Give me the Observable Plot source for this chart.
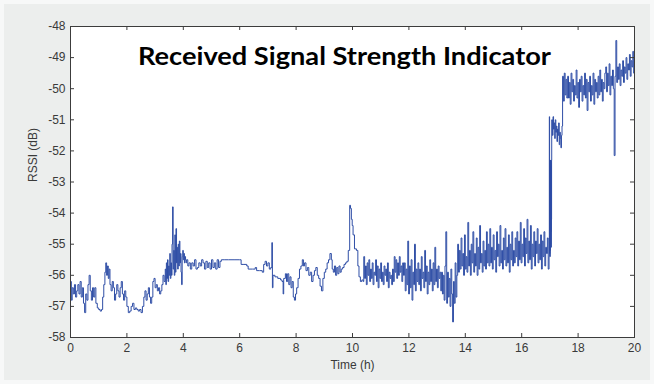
<!DOCTYPE html>
<html><head><meta charset="utf-8">
<script src="https://cdn.jsdelivr.net/npm/d3@7"></script>
<script src="https://cdn.jsdelivr.net/npm/@observablehq/plot@0.6"></script>
<style>
html,body{margin:0;padding:0;background:#f7f8f8;overflow:hidden;}
#wrap{position:absolute;left:0;top:0;width:654px;height:384px;}
#bg{position:absolute;left:4px;top:4px;width:646px;height:376px;background:#eceeed;}
#chart{position:absolute;left:0;top:0;}
</style></head><body>
<div id="wrap"><div id="bg"></div><div id="chart"></div></div>
<script>
const title = "Received Signal Strength Indicator";
const xLabel = "Time (h)";
const yLabel = "RSSI (dB)";
const xTicks = [0, 2, 4, 6, 8, 10, 12, 14, 16, 18, 20];
const yTicks = [-58, -57, -56, -55, -54, -53, -52, -51, -50, -49, -48];

// 0 – 3.35 h (explicit samples)
const tA = [0,0.03,0.06,0.1,0.14,0.18,0.22,0.26,0.3,0.34,0.38,0.42,0.46,0.5,0.54,0.58,0.62,0.66,0.7,0.74,0.78,0.82,0.86,0.9,0.95,1.0,1.05,1.1,1.14,1.18,1.22,1.25,1.28,1.31,1.34,1.37,1.4,1.44,1.48,1.52,1.56,1.6,1.64,1.68,1.72,1.76,1.8,1.84,1.88,1.92,1.96,2.0,2.05,2.1,2.15,2.2,2.25,2.3,2.35,2.4,2.45,2.5,2.55,2.6,2.64,2.68,2.72,2.76,2.8,2.84,2.88,2.92,2.96,3.0,3.04,3.08,3.12,3.16,3.2,3.24,3.28,3.32];
const vA = [-56.2,-56.8,-56.4,-56.6,-56.3,-56.7,-56.5,-56.3,-56.6,-56.2,-56.7,-56.4,-56.9,-57.2,-56.6,-56.8,-56.3,-56.0,-56.5,-56.8,-56.4,-56.7,-56.4,-56.9,-57.05,-57.1,-57.15,-57.1,-56.7,-56.3,-55.9,-55.6,-56.0,-55.7,-56.1,-55.8,-56.3,-56.5,-56.2,-56.4,-56.8,-56.6,-56.3,-56.5,-56.7,-56.4,-56.2,-56.6,-56.8,-56.5,-56.7,-57.0,-57.2,-57.15,-57.0,-56.9,-57.1,-57.05,-57.1,-57.15,-57.1,-57.2,-57.0,-56.7,-56.5,-56.8,-56.6,-56.4,-56.7,-56.9,-56.7,-56.2,-56.1,-56.4,-56.3,-56.5,-56.4,-56.6,-56.5,-56.3,-56.0,-56.2];

// 3.36 – 4.10 h, every 0.02 h
const bStart = 3.36, bStep = 0.02;
const vB = [-55.8,-56.3,-55.6,-56.1,-55.5,-56.2,-55.7,-56.0,-55.3,-56.1,-55.6,-56.0,-55.0,-53.8,-55.8,-55.2,-56.0,-54.7,-55.9,-54.5,-55.6,-55.1,-55.8,-55.0,-55.7,-54.9,-55.6,-55.3,-55.9,-56.3,-55.4,-55.2,-55.5,-55.3,-55.6,-55.4,-55.5,-55.6];

// 4.12 – 10.38 h (explicit samples)
const tC = [4.12,4.16,4.2,4.25,4.3,4.35,4.4,4.45,4.5,4.55,4.6,4.65,4.7,4.75,4.8,4.85,4.9,4.95,5.0,5.05,5.1,5.15,5.2,5.25,5.3,5.35,5.45,5.6,5.8,6.0,6.05,6.15,6.25,6.3,6.45,6.55,6.6,6.7,6.8,6.85,6.9,6.95,7.0,7.05,7.1,7.14,7.16,7.18,7.25,7.35,7.45,7.5,7.54,7.56,7.62,7.66,7.7,7.74,7.78,7.82,7.86,7.9,7.94,7.98,8.02,8.07,8.12,8.17,8.22,8.26,8.3,8.35,8.4,8.45,8.5,8.55,8.6,8.65,8.7,8.75,8.8,8.85,8.9,8.95,9.0,9.05,9.1,9.15,9.2,9.25,9.28,9.32,9.36,9.4,9.44,9.48,9.52,9.56,9.6,9.65,9.7,9.75,9.8,9.85,9.9,9.93,9.96,9.99,10.02,10.07,10.14,10.19,10.23,10.28,10.33,10.38];
const vC = [-55.5,-55.7,-55.6,-55.8,-55.6,-55.7,-55.5,-55.8,-55.75,-55.6,-55.7,-55.5,-55.6,-55.8,-55.55,-55.75,-55.6,-55.8,-55.5,-55.75,-55.6,-55.8,-55.5,-55.75,-55.55,-55.5,-55.5,-55.5,-55.5,-55.5,-55.65,-55.65,-55.7,-55.8,-55.8,-55.75,-55.85,-55.85,-55.9,-55.65,-55.55,-55.7,-55.6,-55.8,-55.75,-54.95,-56.4,-56.0,-56.05,-56.1,-56.15,-56.2,-56.6,-56.1,-55.95,-56.2,-55.95,-56.3,-56.05,-56.4,-56.2,-56.7,-56.8,-56.6,-56.4,-56.1,-55.8,-55.7,-55.5,-55.7,-55.6,-55.85,-55.75,-56.0,-55.9,-56.2,-56.0,-55.85,-55.75,-56.0,-56.1,-56.35,-56.5,-56.1,-55.9,-55.8,-55.6,-55.5,-55.3,-55.5,-55.8,-55.9,-55.7,-56.0,-55.75,-55.95,-55.7,-55.9,-55.8,-55.75,-55.65,-55.6,-55.55,-55.2,-53.75,-53.85,-54.2,-54.4,-54.7,-55.15,-55.2,-55.7,-56.05,-56.2,-56.15,-56.2];

// 10.40 – 16.97 h, every 0.03 h
const dStart = 10.4, dStep = 0.03;
const vD = [
-55.4,-56.1,-55.7,-56.3,-55.6,-56.0,-55.5,-56.2,-55.8,-56.1,
-55.6,-56.3,-55.9,-56.0,-55.5,-56.2,-55.7,-56.4,-55.8,-56.1,
-55.6,-56.2,-55.9,-56.3,-55.7,-56.0,-55.8,-56.2,-55.6,-56.4,
-55.9,-56.1,-56.0,-56.3,-55.8,-56.2,
-55.4,-55.9,-55.5,-56.1,-55.6,-56.0,-55.4,-55.9,-55.7,-56.2,-55.6,-56.0,
-55.6,-56.5,-55.8,-56.3,-54.9,-56.6,-55.7,-56.4,-55.5,-56.8,-55.9,-56.3,-55.0,-56.5,-55.8,-56.2,
-55.6,-56.3,-55.8,-56.5,-55.4,-56.1,-55.9,-56.4,-55.2,-56.2,-55.7,-56.6,-55.9,-56.3,-55.5,-56.2,
-55.8,-56.5,-55.6,-56.3,-55.1,-56.2,-55.8,-56.4,-55.7,-56.1,-55.9,-56.5,
-55.9,-56.6,-56.0,-56.8,-55.7,-54.6,-56.9,-55.9,-56.7,-56.1,-57.0,-55.8,-56.6,-57.5,-56.2,-56.9,-55.6,-56.7,-56.0,
-55.0,-55.9,-55.2,-55.8,-54.8,-55.7,-55.3,-56.0,-54.7,-55.8,-55.4,-55.9,-54.3,-55.7,-55.2,-56.0,-55.0,-55.6,-54.6,-55.9,
-55.3,-55.7,-54.8,-56.0,-55.1,-55.8,-54.4,-55.6,-55.3,-55.9,-54.9,-55.7,-55.2,-55.8,-54.6,-55.6,
-55.0,-55.7,-54.5,-55.6,-55.1,-55.8,-54.7,-55.5,-55.2,-55.9,-54.6,-55.4,-55.0,-55.7,-54.4,-55.6,-55.2,-55.8,-54.8,-55.5,
-54.5,-55.7,-55.1,-55.6,-54.7,-55.9,-55.0,-55.5,-54.6,-55.7,-55.2,-55.6,-54.8,
-55.4,-54.6,-55.7,-54.9,-55.5,-54.3,-55.6,-55.0,-55.4,-54.5,-55.7,-54.8,-55.3,-54.2,-55.6,-54.9,-55.5,-54.4,-55.8,-55.0,
-55.4,-54.6,-55.7,-54.9,-55.3,-54.5,-55.6,-55.0,-55.5,-54.7,-55.8,-54.9,-55.4,-54.6,-55.7,-55.1,-55.3,-54.8,-55.8,-55.4];

// jump near 17 h (explicit samples)
const tE = [16.98,16.99,17.0,17.005,17.01,17.015,17.02,17.025,17.03,17.035,17.04,17.045,17.05,17.055,17.06,17.065];
const vE = [-50.9,-55.3,-52.3,-55.4,-52.4,-55.2,-52.3,-55.0,-52.4,-54.6,-52.3,-55.1,-52.5,-54.2,-52.3,-51.0];

// 17.07 – 17.43 h, every 0.02 h
const fStart = 17.07, fStep = 0.02;
const vF = [-51.0,-51.5,-50.9,-51.3,-51.1,-51.6,-51.0,-51.4,-51.2,-51.7,-51.3,-51.5,-51.1,-51.8,-51.4,-51.6,-51.9,-51.5,-51.2];

// 17.45 – 20.00 h, every 0.03 h
const gStart = 17.45, gStep = 0.03;
const vG = [
-49.6,-50.4,-49.5,-50.2,-49.7,-50.3,
-49.6,-50.3,-49.8,-50.5,-49.5,-50.1,-49.7,-50.4,-49.9,-50.2,-49.4,-50.3,-49.8,-50.6,-49.7,-50.1,-49.6,-50.4,-49.9,-50.2,
-49.5,-50.3,-49.7,-50.7,-49.8,-50.1,-49.6,-50.4,-49.9,-50.2,-49.5,-50.5,-49.7,-50.1,-49.8,-50.3,-49.6,-50.2,-49.4,-50.1,
-49.7,-50.4,-49.8,-50.0,-49.5,
-49.3,-50.1,-49.5,-49.9,-49.2,-50.2,-49.6,-49.9,-49.4,-50.0,
-52.15,
-49.6,-48.45,-49.8,-49.3,-49.7,-49.2,-49.9,-49.4,-49.6,-49.1,-49.8,-49.3,-49.5,-49.0,-49.7,-49.2,-49.4,-48.9,-49.6,-49.1,-49.3,-48.8,-49.5,-49.0];

const data = [];
tA.forEach((t, i) => data.push({t, v: vA[i]}));
vB.forEach((v, i) => data.push({t: bStart + i * bStep, v}));
tC.forEach((t, i) => data.push({t, v: vC[i]}));
vD.forEach((v, i) => data.push({t: dStart + i * dStep, v}));
tE.forEach((t, i) => data.push({t, v: vE[i]}));
vF.forEach((v, i) => data.push({t: fStart + i * fStep, v}));
vG.forEach((v, i) => data.push({t: gStart + i * gStep, v}));

const fmt = d => String(d);
const axisColor = "#3c3c3c";
const tickLen = 4;
const W = 654, H = 384, mL = 70, mR = 20, mT = 26, mB = 47;
const innerW = W - mL - mR, innerH = H - mT - mB;
const chart = Plot.plot({
  width: W, height: H,
  marginLeft: mL, marginRight: mR, marginTop: mT, marginBottom: mB,
  style: {background: "transparent", fontFamily: "'Liberation Sans', Arial, sans-serif", fontSize: "12px", color: "#3a3a3a", overflow: "visible"},
  x: {domain: [0, 20], ticks: xTicks, tickSize: 0, tickPadding: 6, tickFormat: fmt, label: null},
  y: {domain: [-58, -48], ticks: yTicks, tickSize: 0, tickPadding: 5, tickFormat: fmt, label: null},
  marks: [
    Plot.frame({fill: "white", stroke: null}),
    Plot.line(data, {x: "t", y: "v", stroke: "#2f4ea6", strokeWidth: 1, curve: "step-after"}),
    Plot.frame({stroke: axisColor, strokeWidth: 1}),
    Plot.ruleX(xTicks, {x: d => d, insetTop: innerH - tickLen, stroke: axisColor}),
    Plot.ruleX(xTicks, {x: d => d, insetBottom: innerH - tickLen, stroke: axisColor}),
    Plot.ruleY(yTicks, {y: d => d, insetRight: innerW - tickLen, stroke: axisColor}),
    Plot.ruleY(yTicks, {y: d => d, insetLeft: innerW - tickLen, stroke: axisColor}),
    Plot.text([xLabel], {frameAnchor: "bottom", dy: 28, text: d => d, fontSize: 12, fill: "#3a3a3a", lineAnchor: "middle"}),
    Plot.text([yLabel], {frameAnchor: "left", dx: -37, rotate: -90, text: d => d, fontSize: 12, fill: "#3a3a3a"}),
    Plot.text([title], {frameAnchor: "top", dx: -8, dy: 38, text: d => d, fontSize: 24, fontWeight: "bold", fontFamily: "Lato, 'Open Sans', sans-serif", fill: "black", lineAnchor: "bottom"})
  ]
});
chart.querySelectorAll("text").forEach(el => {
  if (el.textContent === title) {
    el.setAttribute("textLength", "413");
    el.setAttribute("lengthAdjust", "spacingAndGlyphs");
  }
});
document.getElementById("chart").appendChild(chart);
</script>
</body></html>
